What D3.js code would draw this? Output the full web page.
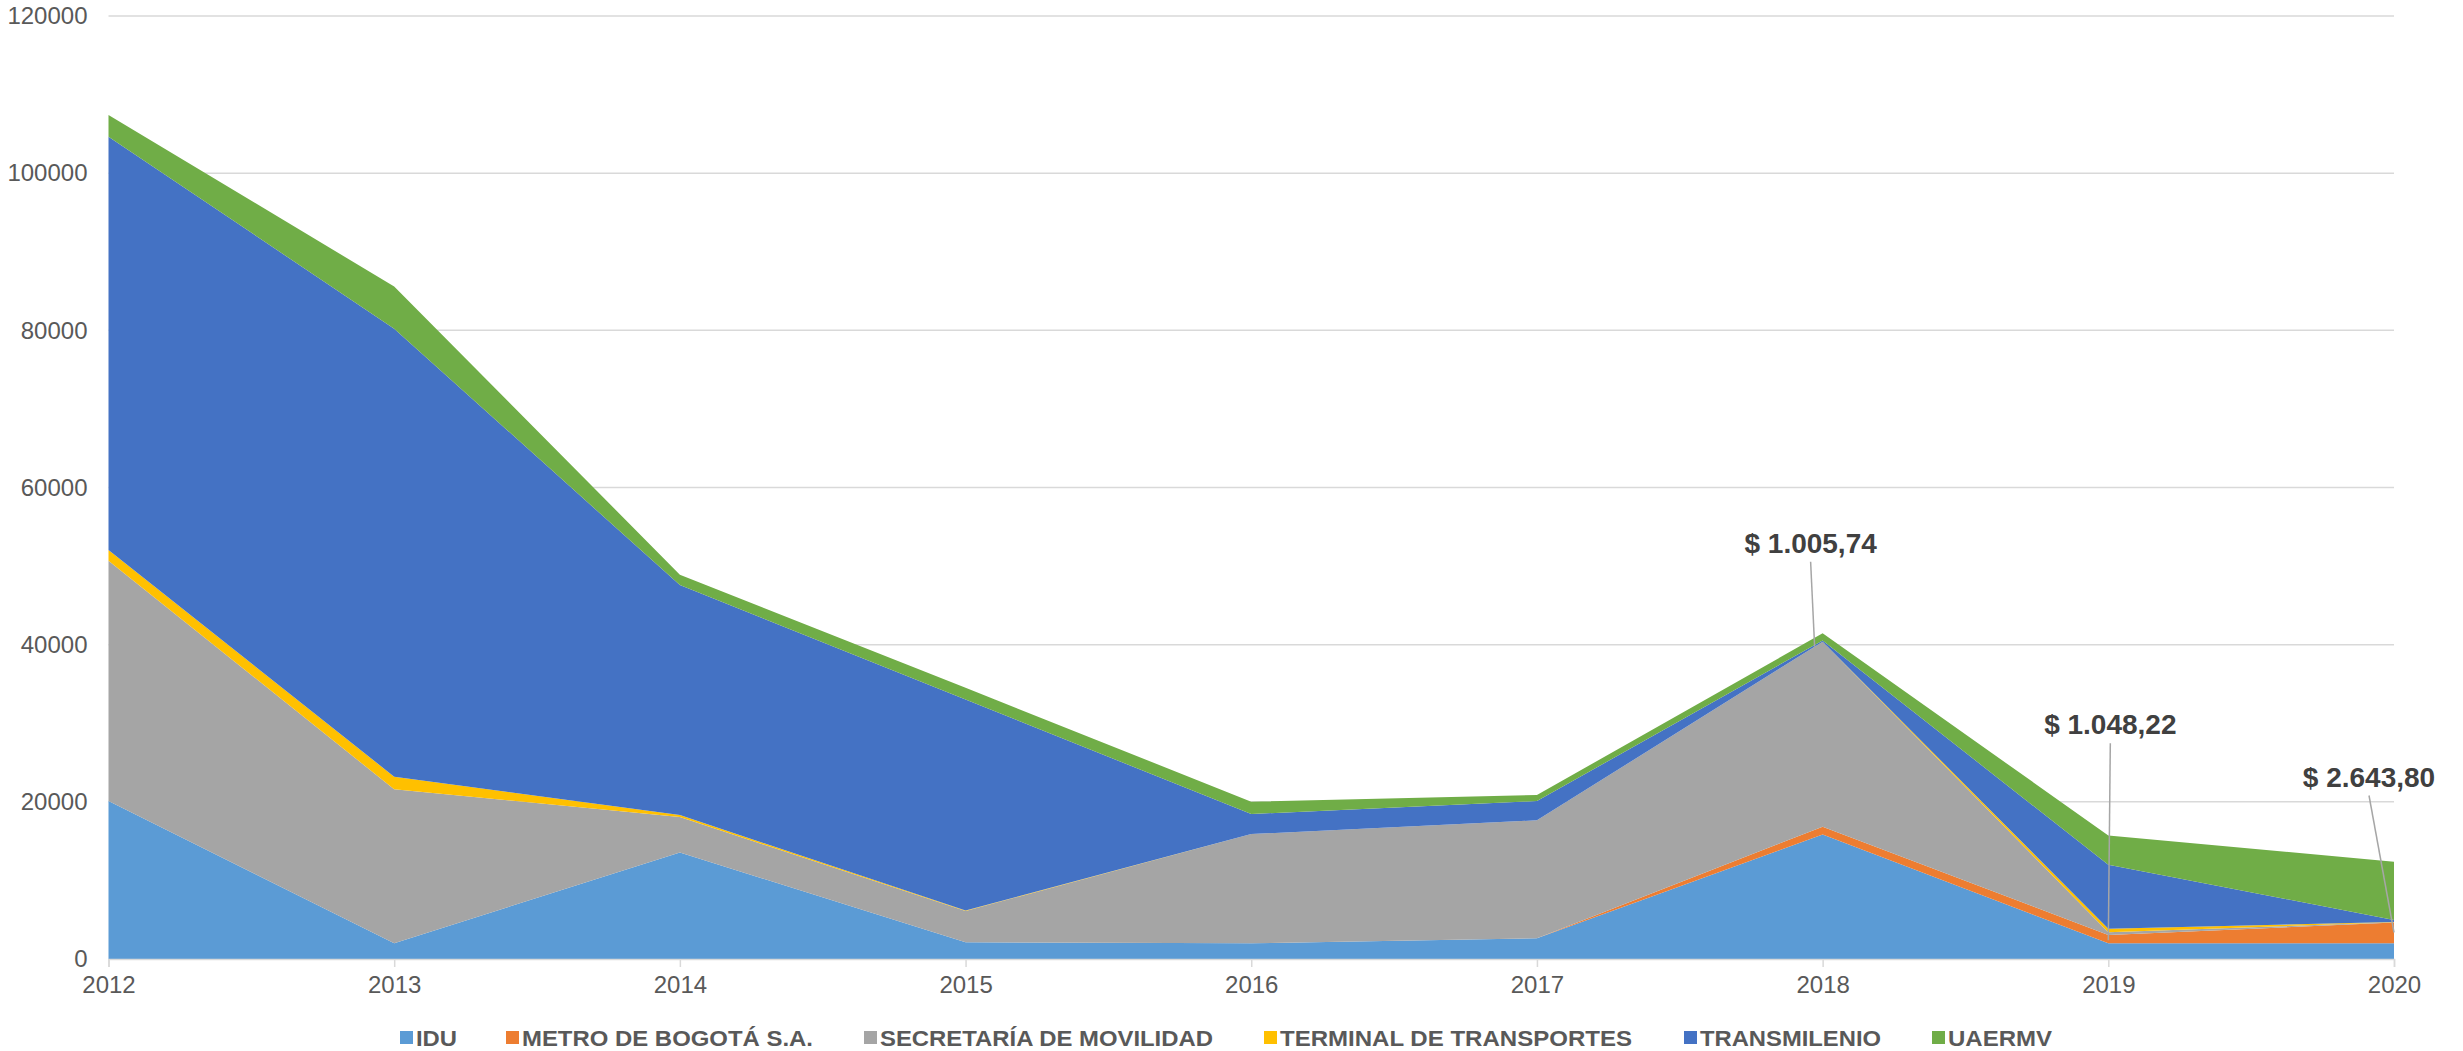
<!DOCTYPE html>
<html>
<head>
<meta charset="utf-8">
<script src="https://cdn.jsdelivr.net/npm/d3@7"></script>
<style>
  html, body { margin: 0; padding: 0; background: #fff; }
  svg { display: block; }
</style>
</head>
<body>
<svg id="chart" width="2463" height="1051"></svg>
<script>
// ---- Data ----
const years = [2012, 2013, 2014, 2015, 2016, 2017, 2018, 2019, 2020];
const seriesNames = ["IDU", "METRO DE BOGOTÁ S.A.", "SECRETARÍA DE MOVILIDAD", "TERMINAL DE TRANSPORTES", "TRANSMILENIO", "UAERMV"];
const idu          = [20100, 2000, 13560, 2120, 2000, 2630, 15834, 2000, 2000];
const metro        = [0, 0, 0, 0, 0, 0, 1005.74, 1048.22, 2643.80];
const secretaria   = [30590, 19600, 4510, 3990, 13900, 15020, 23540, 350, 30];
const terminal     = [1360, 1600, 250, 50, 0, 0, 0, 450, 40];
const transmilenio = [52590, 57000, 29270, 26850, 2550, 2450, 150, 8150, 250];
const uaermv       = [2760, 5380, 1320, 1500, 1570, 770, 910, 3730, 7420];
const yTicks = [0, 20000, 40000, 60000, 80000, 100000, 120000];
const colors = ["#5B9BD5", "#ED7D31", "#A5A5A5", "#FFC000", "#4472C4", "#70AD47"];
// annotations: METRO DE BOGOTÁ values
const annYears  = [2018, 2019, 2020];
const annLabels = ["$ 1.005,74", "$ 1.048,22", "$ 2.643,80"];

// ---- Build table ----
const seriesArrays = [idu, metro, secretaria, terminal, transmilenio, uaermv];
const table = years.map((y, i) => {
  const row = { year: y };
  seriesNames.forEach((n, k) => row[n] = seriesArrays[k][i]);
  return row;
});

const svg = d3.select("#chart");
const font = "'Liberation Sans', Arial, sans-serif";

const x = d3.scalePoint().domain(years).range([108.5, 2394]).padding(0);
const y = d3.scaleLinear().domain([0, 120000]).range([959, 16]);

// gridlines
svg.append("g").selectAll("line").data(yTicks.filter(t => t > 0)).join("line")
  .attr("x1", x(years[0])).attr("x2", x(years[years.length - 1]))
  .attr("y1", d => y(d)).attr("y2", d => y(d))
  .attr("stroke", "#D9D9D9").attr("stroke-width", 1.5);

// stacked areas
const stack = d3.stack().keys(seriesNames);
const layers = stack(table);
const area = d3.area()
  .x(d => x(d.data.year))
  .y0(d => y(d[0]))
  .y1(d => y(d[1]));

svg.append("g").selectAll("path").data(layers).join("path")
  .attr("d", area)
  .attr("fill", (d, i) => colors[i])
  .attr("stroke", "none");

// x axis
const xAxis = d3.axisBottom(x).tickSize(8).tickPadding(9);
const gx = svg.append("g").attr("transform", `translate(0,${y(0)})`).call(xAxis);
gx.select(".domain").attr("stroke", "#D9D9D9").attr("stroke-width", 1.5);
gx.selectAll(".tick line").attr("stroke", "#D9D9D9").attr("stroke-width", 1.5);
gx.selectAll(".tick text").attr("font-family", font).attr("font-size", 24).attr("fill", "#595959");

// y axis (labels only)
const yAxis = d3.axisLeft(y).tickValues(yTicks).tickSize(0).tickPadding(21).tickFormat(d3.format("d"));
const gy = svg.append("g").attr("transform", `translate(${x(years[0])},0)`).call(yAxis);
gy.select(".domain").remove();
gy.selectAll(".tick text").attr("font-family", font).attr("font-size", 24).attr("fill", "#595959");

// annotations (METRO values)
const stackTop = (year, layerIdx) => layers[layerIdx][years.indexOf(year)];
const annSpecs = [
  { lx: -12, ly: -94, ex: -8, eyFrom: () => y(stackTop(2018, 2)[1]) + 5 },
  { lx: 2, ly: -206, ex: 0, eyFrom: () => y((stackTop(2019, 1)[0] + stackTop(2019, 1)[1]) / 2) + 1 },
  { lx: -25, ly: -146, ex: 0, eyFrom: () => y(stackTop(2020, 1)[1]) + 10 }
];
annYears.forEach((yr, k) => {
  const s = annSpecs[k];
  const ex = x(yr) + s.ex;
  const ey = s.eyFrom();
  const lxp = x(yr) + s.lx;
  const baseline = ey + s.ly;
  svg.append("line")
    .attr("x1", lxp).attr("y1", baseline + 9)
    .attr("x2", ex).attr("y2", ey)
    .attr("stroke", "#A6A6A6").attr("stroke-width", 1.5);
  svg.append("text")
    .attr("x", lxp).attr("y", baseline)
    .attr("text-anchor", "middle")
    .attr("font-family", font).attr("font-weight", "bold").attr("font-size", 28)
    .attr("fill", "#404040")
    .text(annLabels[k]);
});

// legend
const legendX = [400, 506, 864, 1264, 1684, 1932];
const legendW = [41, 291, 333, 352, 181, 104];
const lg = svg.append("g");
seriesNames.forEach((n, i) => {
  lg.append("rect").attr("x", legendX[i]).attr("y", 1031).attr("width", 13).attr("height", 13).attr("fill", colors[i]);
  lg.append("text").attr("x", legendX[i] + 16).attr("y", 1046)
    .attr("font-family", font).attr("font-weight", "bold").attr("font-size", 22)
    .attr("textLength", legendW[i]).attr("lengthAdjust", "spacingAndGlyphs")
    .attr("fill", "#595959").text(n);
});
</script>
</body>
</html>
